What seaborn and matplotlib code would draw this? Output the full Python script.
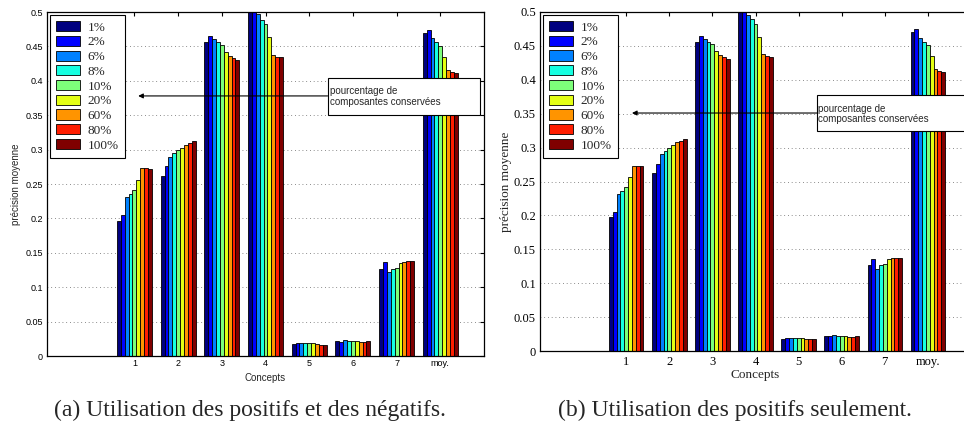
import numpy as np
import pandas as pd
import matplotlib
matplotlib.use("Agg")
import matplotlib.pyplot as plt
from matplotlib.patches import Rectangle
import seaborn as sns

# ---- data -------------------------------------------------------------
concepts = ["1", "2", "3", "4", "5", "6", "7", "moy."]
percentages = ["1%", "2%", "6%", "8%", "10%", "20%", "60%", "80%", "100%"]

# (a) positives and negatives: one list per concept, one value per percentage
c1_a = [0.196, 0.205, 0.231, 0.236, 0.242, 0.256, 0.273, 0.273, 0.272]
c2_a = [0.262, 0.276, 0.289, 0.295, 0.299, 0.302, 0.307, 0.310, 0.313]
c3_a = [0.456, 0.465, 0.461, 0.456, 0.452, 0.442, 0.436, 0.433, 0.430]
c4_a = [0.510, 0.505, 0.497, 0.489, 0.483, 0.463, 0.438, 0.435, 0.434]
c5_a = [0.0175, 0.0185, 0.0192, 0.019, 0.019, 0.019, 0.0175, 0.0165, 0.0165]
c6_a = [0.0222, 0.021, 0.0232, 0.0216, 0.0222, 0.0213, 0.0199, 0.0199, 0.0213]
c7_a = [0.127, 0.136, 0.122, 0.127, 0.128, 0.135, 0.1367, 0.1376, 0.1376]
moy_a = [0.470, 0.4745, 0.462, 0.456, 0.451, 0.435, 0.4157, 0.4133, 0.4113]

# (b) positives only
c1_b = [0.197, 0.2055, 0.231, 0.236, 0.2425, 0.256, 0.2733, 0.2733, 0.273]
c2_b = [0.2625, 0.2758, 0.290, 0.295, 0.300, 0.3033, 0.3078, 0.3097, 0.3127]
c3_b = [0.4553, 0.4646, 0.4602, 0.4553, 0.4523, 0.4425, 0.436, 0.4332, 0.4302]
c4_b = [0.510, 0.505, 0.496, 0.489, 0.482, 0.463, 0.4385, 0.4346, 0.4332]
c5_b = [0.018, 0.019, 0.0198, 0.0192, 0.0192, 0.0192, 0.018, 0.017, 0.017]
c6_b = [0.0225, 0.0215, 0.0235, 0.022, 0.0225, 0.0218, 0.0203, 0.0203, 0.0215]
c7_b = [0.1268, 0.1357, 0.1214, 0.1268, 0.1283, 0.1352, 0.1367, 0.1377, 0.1377]
moy_b = [0.470, 0.4744, 0.462, 0.4558, 0.451, 0.435, 0.4155, 0.413, 0.4115]

yticks = [0, 0.05, 0.1, 0.15, 0.2, 0.25, 0.3, 0.35, 0.4, 0.45, 0.5]
ytick_labels = ["0", "0.05", "0.1", "0.15", "0.2", "0.25", "0.3", "0.35",
                "0.4", "0.45", "0.5"]

caption_a = "(a) Utilisation des positifs et des négatifs."
caption_b = "(b) Utilisation des positifs seulement."
note = "pourcentage de\ncomposantes conservées"


def long_table(rows):
    recs = []
    for concept, vals in zip(concepts, rows):
        for pct, v in zip(percentages, vals):
            recs.append({"Concepts": concept, "pct": pct, "val": v})
    return pd.DataFrame(recs)


df_a = long_table([c1_a, c2_a, c3_a, c4_a, c5_a, c6_a, c7_a, moy_a])
df_b = long_table([c1_b, c2_b, c3_b, c4_b, c5_b, c6_b, c7_b, moy_b])

palette = [matplotlib.colormaps["jet"](t) for t in np.linspace(0, 1, 9)]

sns.set_style("white")
SANS = ["Liberation Sans", "DejaVu Sans"]
SERIF = ["Liberation Serif", "DejaVu Serif"]

fig = plt.figure(figsize=(9.64, 4.28), dpi=100)
ax_a = fig.add_axes([47 / 964, 1 - 356 / 428, 437 / 964, 344 / 428])
ax_b = fig.add_axes([540 / 964, 1 - 351 / 428, 431 / 964, 339 / 428])


def draw_panel(ax, df, family, tick_fs, label_fs, xpad, ypad, xlabelpad, ylabelpad):
    sns.barplot(data=df, x="Concepts", y="val", hue="pct", order=concepts,
                hue_order=percentages, palette=palette, saturation=1,
                edgecolor="black", linewidth=0.6, errorbar=None,
                width=0.8, gap=0, ax=ax)
    ax.set_xlim(-2, 8)
    ax.set_ylim(0, 0.5)
    ax.set_yticks(yticks)
    ax.set_yticklabels(ytick_labels, family=family, fontsize=tick_fs)
    ax.set_xticks(range(len(concepts)))
    ax.set_xticklabels(concepts, family=family, fontsize=tick_fs)
    ax.tick_params(axis="x", direction="in", top=True, length=3, width=0.8,
                   pad=xpad, colors="black")
    ax.tick_params(axis="y", direction="in", right=True, length=3, width=0.8,
                   pad=ypad, colors="black")
    ax.set_xlabel("Concepts", family=family, fontsize=label_fs, labelpad=xlabelpad)
    ax.set_ylabel("précision moyenne", family=family, fontsize=label_fs,
                  labelpad=ylabelpad)
    ax.yaxis.grid(True, linestyle=(0, (1, 3.5)), color="0.4", linewidth=0.6)
    ax.xaxis.grid(False)
    ax.set_axisbelow(True)
    for s in ax.spines.values():
        s.set_visible(True)
        s.set_color("black")
        s.set_linewidth(0.9)
    handles, labels = ax.get_legend_handles_labels()
    for h in handles:
        h.set_edgecolor("black")
        h.set_linewidth(0.6)
    ax.legend(handles, labels, loc="upper left", bbox_to_anchor=(0.007, 0.991),
              borderaxespad=0, frameon=True, fancybox=False, shadow=False,
              edgecolor="black", framealpha=1,
              prop={"family": SERIF, "size": 9.5},
              handlelength=1.85, handleheight=0.8, handletextpad=0.55,
              labelspacing=0.16, borderpad=0.45)
    ax.get_legend().get_frame().set_linewidth(0.8)


draw_panel(ax_a, df_a, SANS, 6.5, 7, 2.5, 3, 3, 3)
draw_panel(ax_b, df_b, SERIF, 9, 9.5, 3.5, 3, 1, 1)

# annotation boxes with arrows
ax_a.add_patch(Rectangle((4.42, 0.350), 3.49, 0.054, facecolor="white",
                         edgecolor="black", linewidth=0.8, zorder=6))
ax_a.text(4.47, 0.392, note, ha="left", va="top", family=SANS, fontsize=7,
          linespacing=1.1, zorder=7)
ax_a.annotate("", xy=(0.087, 0.378), xytext=(4.42, 0.378), zorder=5,
              arrowprops=dict(arrowstyle="-|>", color="black", lw=0.8,
                              mutation_scale=7, shrinkA=0, shrinkB=0))

ax_b.add_patch(Rectangle((4.43, 0.3245), 3.6, 0.0531, facecolor="white",
                         edgecolor="black", linewidth=0.8, zorder=6,
                         clip_on=False))
ax_b.text(4.45, 0.3645, note, ha="left", va="top", family=SANS, fontsize=7,
          linespacing=1.0, zorder=7)
ax_b.annotate("", xy=(0.134, 0.351), xytext=(4.43, 0.351), zorder=5,
              arrowprops=dict(arrowstyle="-|>", color="black", lw=0.8,
                              mutation_scale=7, shrinkA=0, shrinkB=0))

fig.text(250 / 964, 1 - 410 / 428, caption_a, ha="center", va="center",
         family=SERIF, fontsize=17)
fig.text(735 / 964, 1 - 410 / 428, caption_b, ha="center", va="center",
         family=SERIF, fontsize=17)

fig.savefig("out.png", dpi=100)
